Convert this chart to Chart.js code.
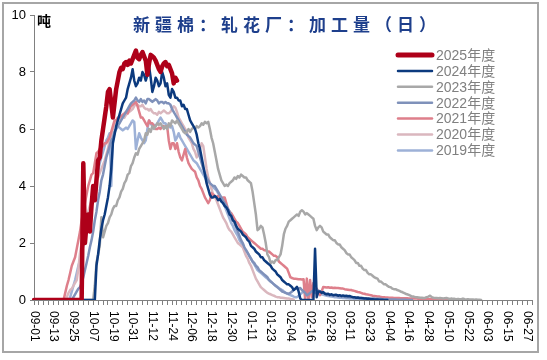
<!DOCTYPE html>
<html>
<head>
<meta charset="utf-8">
<script src="https://cdn.jsdelivr.net/npm/chart.js@4.4.1/dist/chart.umd.min.js"></script>
<style>
html,body{margin:0;padding:0;background:#fff;}
#wrap{width:547px;height:360px;position:relative;}
</style>
</head>
<body>
<div id="wrap"><canvas id="c" width="547" height="360"></canvas></div>
<script>
// ---- DATA ----
const chartTitle = "新疆棉：轧花厂：加工量（日）";
const unitLabel = "吨";
const seriesNames = ["2025年度","2024年度","2023年度","2022年度","2021年度","2020年度","2019年度"];
const tickLabels = ["09-01","09-13","09-25","10-07","10-19","10-31","11-12","11-24","12-06","12-18","12-30","01-11","01-23","02-04","02-16","02-28","03-11","03-23","04-04","04-16","04-28","05-10","05-22","06-03","06-15","06-27"];
const yTicks = [0,2,4,6,8,10];

const s2025 = [0,0,0,0,0,0,0,0,0,0,0,0,0,0,0,0,0,0,0,0,0,0,0,0,0,0,0,0,0,
 0,4.8,2.0,2.7,3.0,2.4,3.3,4.0,3.5,4.2,4.9,5.0,5.6,6.0,6.4,6.8,7.3,7.4,6.9,6.4,6.9,7.4,7.7,8.0,8.15,8.1,8.3,8.35,8.25,8.4,8.3,
 8.45,8.6,8.75,8.5,8.45,8.6,8.7,8.55,8.4,7.9,8.3,8.6,8.55,8.5,8.4,8.25,8.1,8.0,8.2,8.3,8.35,8.2,8.25,8.1,7.95,7.6,7.8,7.7];

const s2024 = [0,0,0,0,0,0,0,0,0,0,0,0,0,0,0,0,0,0,0,0,0,0,0,0,0,0,0,0,0,0,0,0,0,0,0,0,0,0,
 1.2,1.6,2.1,2.5,2.8,3.0,3.3,3.6,4.0,4.6,5.5,5.8,6.1,6.3,6.5,6.7,6.9,7.0,7.1,7.4,7.6,7.8,8.1,
 7.7,7.5,7.6,7.8,7.7,8.0,7.9,7.7,7.9,8.2,7.8,7.3,7.5,7.8,7.7,7.5,7.6,8.0,7.8,7.5,7.6,7.2,7.1,7.4,7.3,7.1,7.1,7.0,7.0,6.8,6.85,6.7,6.7,6.5,6.3,6.2,6.1,6.0,5.8,
 5.5,5.3,5.0,4.7,4.4,4.1,3.9,3.7,3.6,3.6,3.65,3.6,3.5,3.55,3.45,3.4,3.3,3.25,3.15,3.0,2.95,2.8,2.75,2.6,2.5,2.45,2.4,2.3,2.25,2.2,2.1,2.05,1.9,1.85,1.8,1.7,1.65,1.6,1.5,1.5,1.4,1.35,1.3,1.25,1.2,1.1,1.05,1.0,0.9,0.85,0.8,0.7,0.65,0.6,0.55,0.55,0.5,0.45,0.35,0.4,0.46,0.3,0.05,
 0,0,0,0,0,0,0,0,1.8,
 0.1,0.3,0.3,0.25,0.28,0.22,0.2,0.22,0.18,0.2,0.17,0.18,0.18,0.15,0.17,0.14,0.16,0.14,0.15,0.13,0.14,0.12,0.1,0.1,0.08,0.09,0.07,0.07,0.06,0.05,0.05,0.04,0.04,0.03,0.03,0.02,0.02,0.02,0.01,0.01,0.01,0,0,0];

const s2023 = [0,0,0,0,0,0,0,0,0,0,0,0,0,0,0,0,0,0,0,0,0,0,0,0,0,0,0,0,0,0,0,0,0,0,0,0,0,
 0.5,1.3,1.6,1.9,2.9,2.2,2.4,2.6,2.7,2.9,3.0,3.2,3.3,3.3,3.5,3.6,3.8,3.9,4.1,4.2,4.4,4.45,4.7,4.8,
 5.0,5.15,5.1,5.3,5.4,5.5,5.6,5.85,5.8,6.0,5.9,6.1,6.0,6.1,6.2,6.15,6.2,6.1,6.0,6.1,6.0,6.2,6.1,6.3,6.25,6.2,6.3,6.2,6.1,6.0,5.9,5.85,5.9,6.0,5.9,6.0,6.05,6.0,6.1,6.05,6.1,6.2,6.15,6.25,6.2,6.25,
 6.0,5.7,5.5,5.2,4.9,4.6,4.4,4.2,4.1,4.0,4.05,4.0,4.1,4.15,4.2,4.3,4.25,4.35,4.3,4.4,4.35,4.3,4.3,4.2,4.15,4.1,
 3.8,3.4,3.0,2.45,2.5,2.6,2.55,2.3,2.0,1.6,1.5,1.3,1.35,1.3,1.4,1.4,1.5,1.6,
 1.9,2.3,2.5,2.6,2.75,2.8,2.85,2.9,2.95,3.0,2.95,3.1,3.15,3.1,3.0,3.05,3.0,2.95,2.9,2.85,
 2.6,2.45,2.55,2.6,2.55,2.4,2.35,2.3,2.3,2.2,2.15,2.1,2.1,2.0,1.95,1.95,1.85,1.8,1.75,1.65,1.6,1.6,1.5,1.45,1.4,1.3,1.3,1.2,1.2,1.1,1.05,1.05,0.95,0.9,0.9,0.85,0.8,0.77,0.75,0.65,0.65,0.6,0.55,0.55,0.5,0.46,0.45,0.4,0.38,0.38,0.35,0.33,0.3,0.28,0.25,0.22,0.2,0.18,0.15,0.12,0.12,0.1,
 0.1,0.09,0.08,0.08,0.07,0.08,0.1,0.12,0.15,0.1,0.08,0.07,0.07,0.06,0.07,0.06,0.05,0.06,0.07,0.05,0.04,0.05,0.04,0.04,0.03,0.04,0.03,0.03,0.05,0.03,0.02,0.03,0.02,0.02,0.02,0.01,0.02,0.01,0.01,0];

const s2022 = [0,0,0,0,0,0,0,0,0,0,0,0,0,0,0,0,0,0,0,0,0,0,0,0,
 0.1,0.2,0.3,0.4,0.45,0.6,0.8,1.05,1.3,1.55,1.85,2.1,2.4,2.8,3.1,3.5,3.8,
 4.2,4.4,4.7,5.0,5.2,5.4,5.6,5.7,5.9,6.0,6.1,6.2,6.3,6.4,6.5,6.6,6.7,6.8,6.9,6.95,7.0,7.1,
 7.0,6.95,7.05,6.95,7.0,6.9,7.05,7.05,7.0,6.95,7.0,7.05,7.0,6.9,6.95,6.95,6.9,6.95,6.9,6.9,6.85,6.7,6.6,6.5,6.4,
 6.3,6.2,6.1,6.0,5.9,5.8,5.75,5.7,5.6,5.5,5.45,5.4,5.2,5.0,4.8,4.6,4.45,4.3,4.2,4.1,4.05,4.0,4.0,
 3.9,3.8,3.7,3.6,3.5,3.4,3.3,3.2,3.1,2.95,2.8,2.7,2.55,2.4,2.25,2.1,2.0,1.85,1.75,1.65,1.55,1.45,1.35,1.3,1.2,1.15,1.05,1.0,0.95,0.9,0.85,0.8,0.7,0.65,0.6,0.55,0.5,0.45,0.4,0.35,0.3,0.28,0.25,0.23,0.22,0.25,
 0.3,0.35,0.4,0.42,0.4,0.42,0.35,0.3,0.25,0.17,0.2,0.25,0.3,0.33,0.35,0.35,0.33,0.3,0.28,0.25,0.22,0.2,0.18,0.17,0.17,0.16,0.15,0.15,0.14,0.13,0.12,0.12,0.11,0.1,0.1,0.1,0.09,0.09,0.08,0.08,0.08,0.07,0.07,0.07,0.06,0.06,0.06,0.05,0.05,0.05,0.05,0.04,0.04,0.04,0.04,0.03,0.03,0.03,0.03,0.02,0.02,0.02,0.02,0.02,0.01,0.01,0.01,0.01,0.01,0.01,0,0,0,0];

const s2021 = [0,0,0,0,0,0,0,0,0,0,0,0,0,0,0,0,0,0,0,
 0.25,0.5,0.7,0.95,1.2,1.35,1.5,1.8,2.1,2.4,2.8,3.1,3.4,3.7,4.0,4.2,4.4,4.45,4.8,5.15,5.2,5.3,
 5.4,5.4,5.5,5.5,5.6,5.7,5.9,6.1,6.3,6.3,6.4,6.4,6.45,6.5,6.55,6.6,6.55,6.7,6.8,6.85,6.9,6.95,
 6.8,6.6,6.4,6.4,6.3,6.2,6.1,6.3,6.2,6.2,6.1,6.0,6.0,6.05,6.0,6.1,6.1,6.05,6.1,5.6,5.3,5.5,5.5,5.3,5.5,5.2,5.0,4.9,5.1,5.3,5.0,4.8,4.7,4.6,4.55,4.5,4.3,4.2,4.0,3.9,3.75,3.6,3.5,3.4,3.5,3.75,3.7,3.65,
 3.6,3.65,3.6,3.55,3.6,3.6,3.4,3.2,3.1,3.05,2.95,2.85,2.75,2.7,2.6,2.5,2.4,2.35,2.3,2.2,2.15,2.1,2.05,2.0,1.95,1.9,1.85,1.8,1.8,1.75,1.75,1.7,1.7,1.65,1.6,1.55,1.55,1.5,1.35,1.3,1.25,1.2,1.15,1.1,0.95,0.8,0.77,0.75,0.75,0.74,0.73,0.73,0.72,0.73,
 0,0.75,0,0.7,0.1,0.6,0.35,0.4,0.3,0.17,0.3,0.46,
 0.45,0.44,0.45,0.43,0.44,0.42,0.43,0.42,0.42,0.41,0.4,0.4,0.38,0.37,0.36,0.35,0.35,0.33,0.32,0.3,0.28,0.27,0.25,0.23,0.22,0.2,0.19,0.18,0.17,0.15,0.14,0.13,0.12,0.12,0.11,0.1,0.1,0.09,0.09,0.08,0.08,0.08,0.07,0.07,0.07,0.07,0.06,0.06,0.06,0.06,0.06,0.05,0.05,0.05,0.05,0.05,0.05,0.04,0.04,0.04,0.04,0.04,0.04,0.03,0.03,0.03,0.03,0.03,0.02,0.02,0.02,0.02,0.01,0.01,0.01,0,0];

const s2020 = [0,0,0,0,0,0,0,0,0,0,0,0,0,0,0,0,0,0,0,0,
 0.1,0.25,0.35,0.4,0.5,0.6,0.7,1.1,1.65,2.0,2.3,2.6,2.9,3.1,3.3,3.5,3.8,4.0,4.2,4.3,4.45,
 4.6,4.75,4.9,5.1,5.3,5.6,5.8,6.0,6.2,6.3,6.3,6.35,6.4,6.45,6.4,6.5,6.55,6.6,6.65,6.7,6.8,6.9,
 6.85,6.8,6.8,6.85,6.75,6.7,6.7,6.65,6.7,6.6,6.55,6.55,6.5,6.6,6.55,6.6,6.65,6.6,6.55,6.55,6.6,6.7,6.8,6.75,6.6,6.4,6.3,6.2,6.1,6.0,5.9,5.7,5.6,5.5,5.3,5.2,5.0,5.1,
 5.3,5.5,5.4,5.0,4.6,4.3,4.1,3.9,3.7,3.6,3.5,3.35,3.2,3.05,2.9,2.8,2.7,2.55,2.45,2.4,2.3,2.2,2.1,2.0,1.95,1.9,1.85,1.7,1.55,1.45,1.3,1.2,1.05,0.9,0.75,0.65,0.55,0.45,0.4,0.35,0.3,0.25,0.22,0.2,0.17,0.15,0.12,0.1,0.1,0.08,0.08,0.07,0.06,0.05,0.05,0.04,0.03,0.02];

const s2019 = [0,0,0,0,0,0,0,0,0,0,0,0,0,0,0,0,0,0,0,0,0,0,
 0.1,0.3,0.5,0.7,0.95,1.2,1.4,1.65,1.9,2.1,2.4,2.65,2.9,3.3,3.6,3.9,4.2,4.5,4.8,5.0,5.2,5.4,5.6,5.7,5.85,
 4.0,5.6,
 5.9,6.0,6.1,6.05,6.0,5.95,6.0,6.05,6.0,6.1,6.2,6.3,6.25,5.3,5.6,5.85,5.7,5.6,5.5,5.6,6.0,6.3,6.2,6.1,6.15,6.1,6.2,6.3,6.4,6.3,6.2,6.2,6.1,6.1,6.05,6.1,5.9,5.6,5.7,5.85,5.7,5.6,5.5,5.4,5.3,5.2,5.1,5.0,4.9,4.85,4.8,4.7,4.6,4.5,4.4,4.3,4.2,4.15,
 4.1,4.0,3.95,3.9,3.85,3.75,3.65,3.5,3.4,3.3,3.15,3.0,2.85,2.7,2.6,2.45,2.35,2.25,2.1,2.0,1.9,1.8,1.75,1.65,1.55,1.45,1.35,1.25,1.15,1.05,1.0,0.95,0.9,0.85,0.8,0.75,0.7,0.65,0.6,0.55,0.5,0.46,0.42,0.38,0.35,0.3,0.26,0.23,0.2,0.17,0.15,0.12,0.1,0.1,
 0.15,0.2,0.25,0.3,0.33,0.35,0.35,0.33,0.3,0.28,0.25,0.25,0.22,0.2,0.2,0.18,0.17,0.15,0.14,0.13,0.12,0.11,0.1,0.1,0.09,0.08,0.08,0.07,0.07,0.06,0.06,0.05,0.05,0.05,0.04,0.04,0.04,0.03,0.03,0.03,0.02,0.02,0.02,0.02,0.01,0.01,0.01,0.01,0,0];

// daily categories 09-01 .. 06-30 (season spanning a leap February)
const categories = [];
(function(){
  const d = new Date(Date.UTC(2023, 8, 1));
  const end = new Date(Date.UTC(2024, 5, 30));
  while (d <= end) {
    const m = String(d.getUTCMonth()+1).padStart(2,'0');
    const dd = String(d.getUTCDate()).padStart(2,'0');
    categories.push(m + '-' + dd);
    d.setUTCDate(d.getUTCDate()+1);
  }
})();

const seriesValues = [s2025, s2024, s2023, s2022, s2021, s2020, s2019];
const seriesColors = ['#AE0019','#0C3A7E','#A8A8A8','#7F91BA','#DE7F8B','#DAB7BE','#9DB1D7'];
const seriesWidths = [4.5,2.5,2.5,2.5,2.5,2.5,2.5];

const datasets = seriesNames.map((n,k)=>({
  label:n, data:seriesValues[k], borderColor:seriesColors[k], backgroundColor:seriesColors[k],
  borderWidth:seriesWidths[k], pointRadius:0, tension:0, fill:false,
  borderJoinStyle:'round', borderCapStyle:'round'
}));

const deco = {
  id:'deco',
  beforeDraw(chart){
    const c = chart.ctx;
    c.save();
    c.fillStyle = '#ffffff';
    c.fillRect(0,0,chart.width,chart.height);
    c.strokeStyle = '#A6A6A6';
    c.lineWidth = 2;
    c.strokeRect(3,3,535,349);
    c.restore();
  },
  afterDraw(chart){
    const c = chart.ctx;
    const xs = chart.scales.x;
    c.save();
    // title
    c.fillStyle = '#1E3F8C';
    c.font = 'bold 17px "Noto Sans CJK SC", sans-serif';
    c.textBaseline = 'middle';
    c.textAlign = 'left';
    try { c.letterSpacing = '5px'; } catch(e) {}
    const tw = c.measureText(chartTitle).width;
    c.fillText(chartTitle, 287 - tw/2, 25);
    try { c.letterSpacing = '0px'; } catch(e) {}
    // unit
    c.fillStyle = '#000';
    c.font = 'bold 14px "Noto Sans CJK SC", sans-serif';
    c.fillText(unitLabel, 37, 21);
    // legend
    c.font = '14px "Liberation Sans", Arial, "Noto Sans CJK SC", sans-serif';
    datasets.forEach((ds,k)=>{
      const y = 55 + k*15.9;
      c.strokeStyle = ds.borderColor;
      c.lineWidth = k===0 ? 5 : 2.5;
      c.lineCap = 'round';
      c.beginPath(); c.moveTo(398,y); c.lineTo(432,y); c.stroke();
      c.fillStyle = '#808080';
      c.textBaseline = 'middle';
      c.fillText(ds.label, 436, y+1);
    });
    // x tick labels, rotated clockwise
    c.fillStyle = '#000';
    c.font = '12px "Liberation Sans", Arial, sans-serif';
    c.textAlign = 'left';
    c.textBaseline = 'middle';
    tickLabels.forEach(lbl=>{
      const idx = categories.indexOf(lbl);
      if (idx < 0) return;
      const px = xs.getPixelForValue(idx);
      c.save();
      c.translate(px, xs.top + 11);
      c.rotate(Math.PI/2);
      c.fillText(lbl, 0, 0);
      c.restore();
    });
    c.restore();
  }
};

new Chart(document.getElementById('c'), {
  type:'line',
  data:{labels:categories, datasets:datasets},
  options:{
    responsive:false, animation:false, devicePixelRatio:1,
    layout:{padding:{left:0, top:15, right:15, bottom:0}},
    plugins:{legend:{display:false}, title:{display:false}, tooltip:{enabled:false}},
    scales:{
      x:{
        type:'category',
        afterFit(s){ s.height = 60; },
        grid:{drawOnChartArea:false, drawTicks:true, tickLength:5, color:'#808080', lineWidth:1},
        border:{display:true, color:'#808080', width:1},
        ticks:{autoSkip:false, maxRotation:0, minRotation:0, font:{size:1},
          callback(v, i){ return (i % 3 === 0) ? '' : null; }}
      },
      y:{
        min:0, max:10,
        afterFit(s){ s.width = 34; },
        afterBuildTicks(s){ s.ticks = yTicks.map(v=>({value:v})); },
        grid:{drawOnChartArea:false, drawTicks:true, tickLength:4, color:'#808080'},
        border:{display:true, color:'#808080', width:1},
        ticks:{color:'#000', padding:4, font:{family:'"Liberation Sans", Arial, sans-serif', size:13}}
      }
    }
  },
  plugins:[deco]
});
</script>
</body>
</html>
